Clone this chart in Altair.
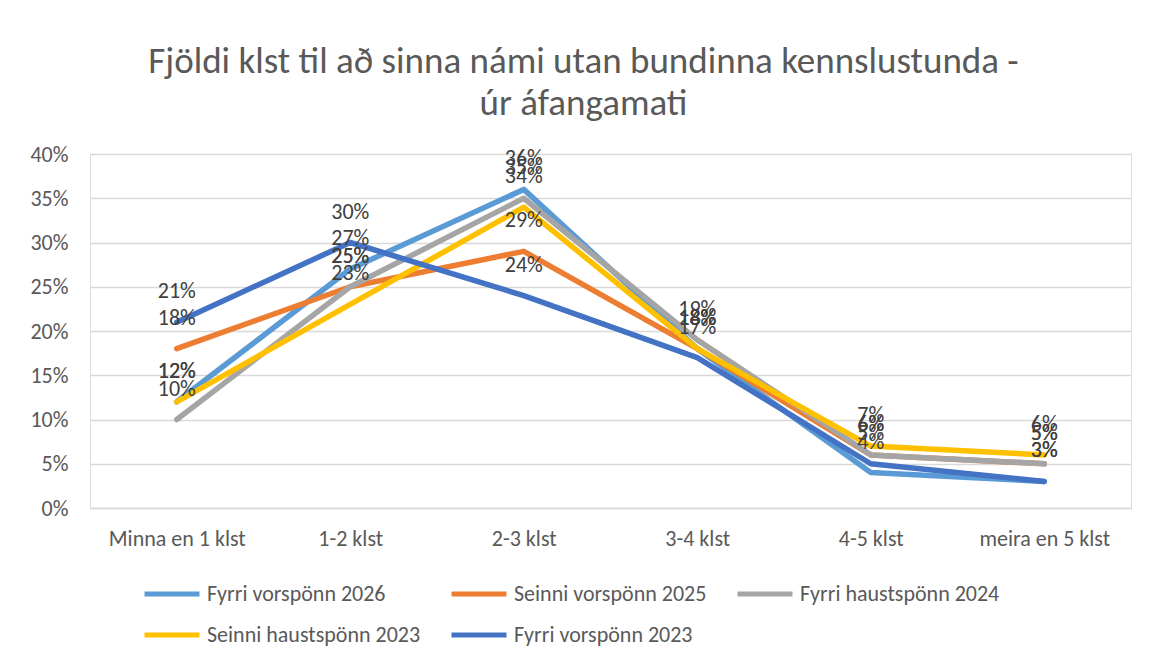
import altair as alt
import pandas as pd

categories = ["Minna en 1 klst", "1-2 klst", "2-3 klst", "3-4 klst", "4-5 klst", "meira en 5 klst"]
series_names = ["Fyrri vorspönn 2026", "Seinni vorspönn 2025", "Fyrri haustspönn 2024",
                "Seinni haustspönn 2023", "Fyrri vorspönn 2023"]
colors = ["#5B9BD5", "#ED7D31", "#A5A5A5", "#FFC000", "#4472C4"]

fyrri_vor_2026 = [12, 27, 36, 18, 4, 3]
seinni_vor_2025 = [18, 25, 29, 18, 6, 5]
fyrri_haust_2024 = [10, 25, 35, 19, 6, 5]
seinni_haust_2023 = [12, 23, 34, 18, 7, 6]
fyrri_vor_2023 = [21, 30, 24, 17, 5, 3]

series_values = [fyrri_vor_2026, seinni_vor_2025, fyrri_haust_2024, seinni_haust_2023, fyrri_vor_2023]
y_ticks = [0, 0.05, 0.10, 0.15, 0.20, 0.25, 0.30, 0.35, 0.40]

rows = []
for si, (name, vals) in enumerate(zip(series_names, series_values)):
    for ci, cat in enumerate(categories):
        rows.append({"cat": cat, "series": name, "value": vals[ci] / 100, "ord": si})
df = pd.DataFrame(rows)

FONT = "Carlito, Lato, sans-serif"

x = alt.X("cat:N", sort=categories, scale=alt.Scale(padding=0.5),
          axis=alt.Axis(title=None, labelAngle=0, ticks=False, grid=False,
                        domainColor="#D9D9D9", domainWidth=1.5, labelPadding=20,
                        labelFontSize=22, labelColor="#595959", labelFont=FONT))
y = alt.Y("value:Q", scale=alt.Scale(domain=[0, 0.4]),
          axis=alt.Axis(title=None, format=".0%", values=y_ticks, domain=False, ticks=False,
                        gridColor="#D9D9D9", gridWidth=1.5, labelPadding=22,
                        labelFontSize=22, labelColor="#595959", labelFont=FONT,
                        minExtent=70, maxExtent=70))
color = alt.Color("series:N", sort=series_names,
                  scale=alt.Scale(domain=series_names, range=colors),
                  legend=alt.Legend(title=None, orient="none", legendX=52, legendY=410,
                                    columns=3, direction="horizontal",
                                    symbolType="stroke", symbolSize=3025, symbolStrokeWidth=5,
                                    labelFontSize=22, labelColor="#595959", labelFont=FONT,
                                    labelOffset=5, columnPadding=20, rowPadding=-8,
                                    labelLimit=400))

lines = alt.Chart(df).mark_line(strokeWidth=5.5, strokeCap="round", strokeJoin="round").encode(
    x=x, y=y, color=color, order="ord:Q"
)

labels = alt.Chart(df).mark_text(dy=-31, fontSize=22, color="#404040", baseline="middle",
                                 font=FONT).encode(
    x=x, y=y, text=alt.Text("value:Q", format=".0%")
)

chart = alt.layer(lines, labels).properties(
    width=1041, height=354,
    padding={"left": 12, "top": 35, "right": 16, "bottom": 4},
    title=alt.TitleParams(
        text=["Fjöldi klst til að sinna námi utan bundinna kennslustunda -", "úr áfangamati"],
        fontSize=37, fontWeight="normal", color="#595959", font=FONT,
        lineHeight=42, offset=20, anchor="middle", frame="group", dx=-27
    )
).configure_view(stroke=None).configure(background="white")

chart.save("out.html", embed_options={"renderer": "svg", "actions": False})
